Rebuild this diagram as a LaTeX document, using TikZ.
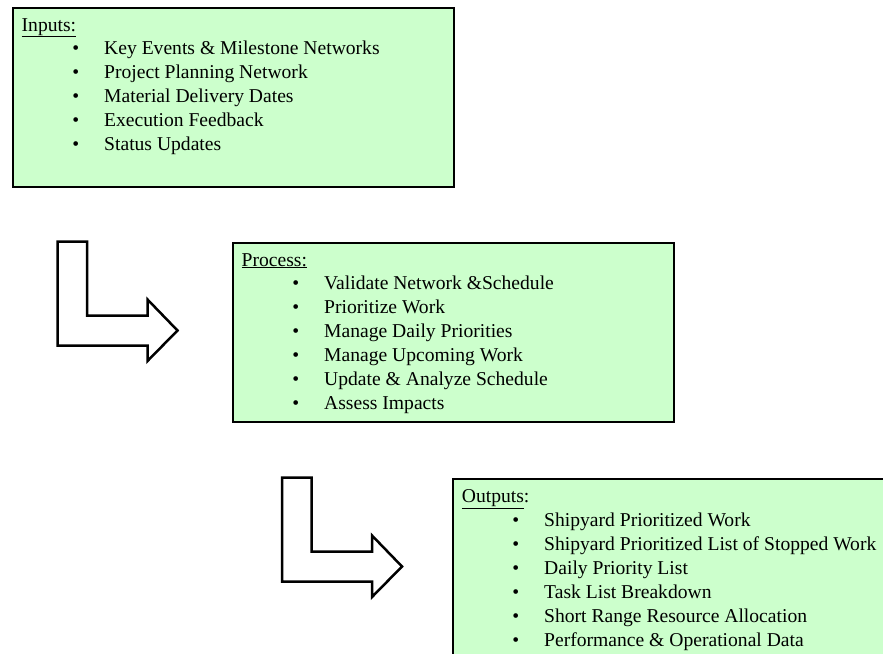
\documentclass[tikz,border=0pt]{standalone}
\usepackage{fontspec}
\setmainfont{Liberation Serif}
\definecolor{panelgreen}{HTML}{CCFFCC}
\tikzset{
  panel/.style={draw=black, line width=2.5pt, fill=panelgreen, anchor=north west,
    inner sep=0pt, minimum width=441pt, minimum height=179pt},
  heading/.style={anchor=base west, inner sep=0pt, font=\fontsize{19.6}{24}\selectfont},
  item/.style={anchor=base west, inner sep=0pt, font=\fontsize{19.6}{24}\selectfont},
  dot/.style={anchor=base, inner sep=0pt, font=\fontsize{19.6}{24}\selectfont},
  arrowline/.style={draw=black, fill=white, line width=2.5pt, line join=miter},
  bentarrow/.pic={
    \draw[arrowline] (0,0) -- (29.5,0) -- (29.5,74) -- (90,74) -- (90,58)
      -- (120,89) -- (90,119.5) -- (90,104) -- (0,104) -- cycle;
  }
}
\begin{document}
\begin{tikzpicture}[x=1pt,y=-1pt]
\useasboundingbox (0,0) rectangle (883,653);
\clip (0,0) rectangle (883,653);

% Inputs panel
\node[panel] (inputs) at (11.5,6.5) {};
\node[heading] (inputs-title) at (21.5,31) {\underline{Inputs:}};
\foreach \t [count=\i] in {Key Events \& Milestone Networks, Project Planning Network,
    Material Delivery Dates, Execution Feedback, Status Updates}{
  \node[dot] (inputs-dot-\i) at (75.7,30.5+24*\i) {\textbullet};
  \node[item] (inputs-item-\i) at (104,30.5+24*\i) {\t};
}

% Process panel
\node[panel] (process) at (231.5,241.5) {};
\node[heading] (process-title) at (241.5,266) {\underline{Process:}};
\foreach \t [count=\i] in {Validate Network \&Schedule, Prioritize Work,
    Manage Daily Priorities, Manage Upcoming Work, Update \& Analyze Schedule,
    Assess Impacts}{
  \node[dot] (process-dot-\i) at (295.7,265.5+24*\i) {\textbullet};
  \node[item] (process-item-\i) at (324,265.5+24*\i) {\t};
}

% Outputs panel, running off the lower right corner
\node[panel, minimum width=460pt, minimum height=200pt] (outputs) at (451.5,477.5) {};
\node[heading] (outputs-title) at (461.7,502.5) {\underline{Outputs}:};
\foreach \t [count=\i] in {Shipyard Prioritized Work, Shipyard Prioritized List of Stopped Work,
    Daily Priority List, Task List Breakdown, Short Range Resource Allocation,
    Performance \& Operational Data}{
  \node[dot] (outputs-dot-\i) at (515.7,502+24*\i) {\textbullet};
  \node[item] (outputs-item-\i) at (544,502+24*\i) {\t};
}

% Bent arrows leading from one stage to the next
\pic at (57.5,241.5) {bentarrow};
\pic at (282,477.5) {bentarrow};
\end{tikzpicture}
\end{document}
